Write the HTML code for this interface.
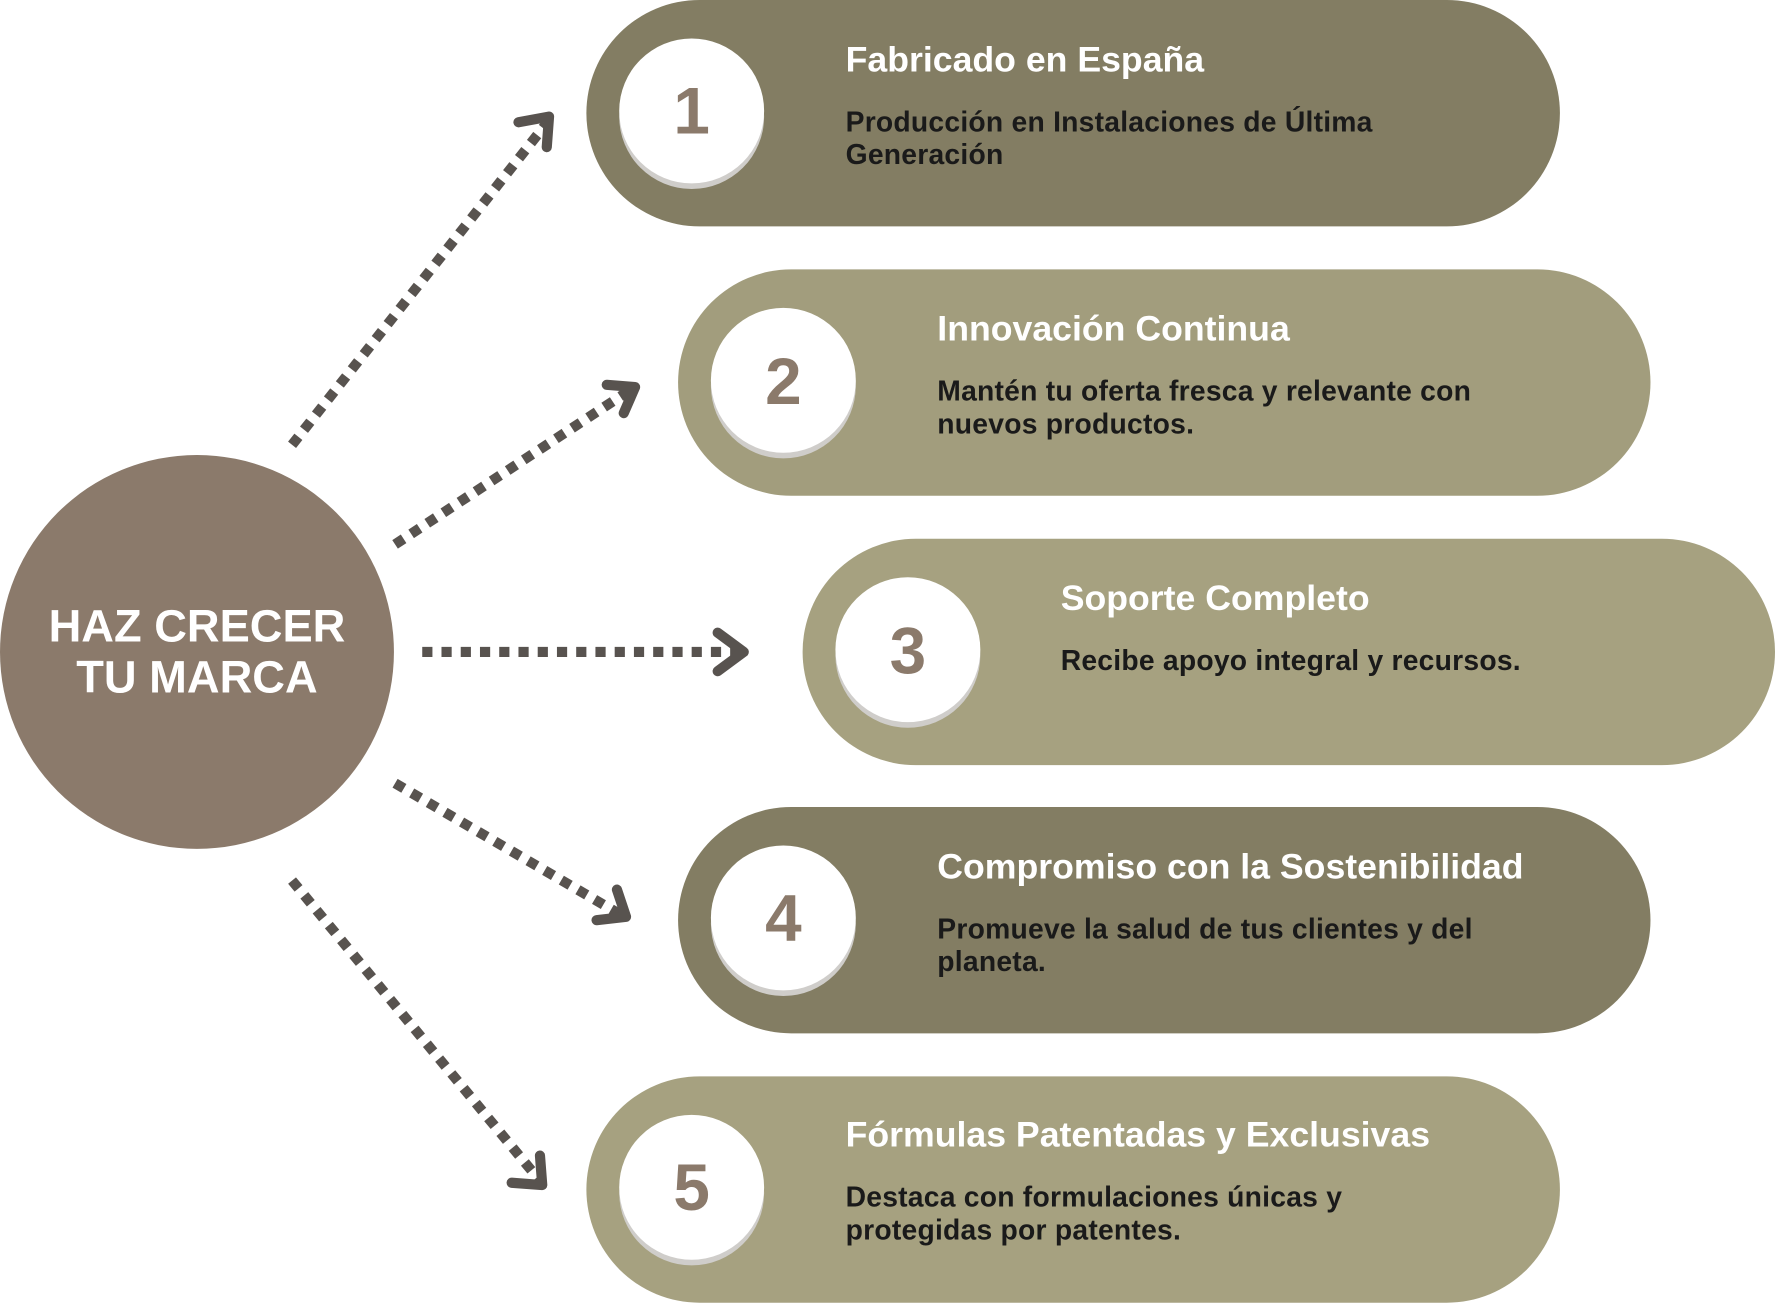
<!DOCTYPE html>
<html><head><meta charset="utf-8"><style>
html,body{margin:0;padding:0;background:#fff;}
svg{display:block;}
.t{font-family:"Liberation Sans",sans-serif;font-weight:bold;fill:#fff;font-size:31.5px;}
.d{font-family:"Liberation Sans",sans-serif;font-weight:bold;fill:#1a1a1a;font-size:25px;letter-spacing:0.2px;}
.n{font-family:"Liberation Sans",sans-serif;font-weight:bold;fill:#8b7a6b;font-size:58px;text-anchor:middle;}
.a{stroke:#58534f;stroke-width:9;stroke-dasharray:9 8;fill:none;}
.h{stroke:#58534f;stroke-width:9;fill:none;stroke-linecap:round;stroke-linejoin:round;}
</style></head><body>
<svg width="1775" height="1305" viewBox="0 0 1568 1153" preserveAspectRatio="none">
<defs>
<g id="c"><circle cx="0" cy="5" r="64" fill="#cfcdca"/><circle cx="0" cy="0" r="64" fill="#fff"/></g>
</defs>
<rect x="518" y="0" width="860" height="200" rx="100" fill="#837d63"/>
<rect x="599" y="238" width="859" height="200" rx="100" fill="#a29d7d"/>
<rect x="709" y="476" width="859" height="200" rx="100" fill="#a6a180"/>
<rect x="599" y="713" width="859" height="200" rx="100" fill="#837d63"/>
<rect x="518" y="951" width="860" height="200" rx="100" fill="#a6a180"/>
<use href="#c" x="611" y="98"/><use href="#c" x="692" y="336"/><use href="#c" x="802" y="574"/><use href="#c" x="692" y="811"/><use href="#c" x="611" y="1049"/>
<text class="n" x="611" y="118">1</text>
<text class="n" x="692" y="357">2</text>
<text class="n" x="802" y="595">3</text>
<text class="n" x="692" y="831">4</text>
<text class="n" x="611" y="1069">5</text>
<text class="t" x="747" y="63">Fabricado en España</text>
<text class="d" x="747" y="116">Producción en Instalaciones de Última</text>
<text class="d" x="747" y="145">Generación</text>
<text class="t" x="828" y="301">Innovación Continua</text>
<text class="d" x="828" y="354">Mantén tu oferta fresca y relevante con</text>
<text class="d" x="828" y="383">nuevos productos.</text>
<text class="t" x="937" y="539">Soporte Completo</text>
<text class="d" x="937" y="592">Recibe apoyo integral y recursos.</text>
<text class="t" x="828" y="776">Compromiso con la Sostenibilidad</text>
<text class="d" x="828" y="829">Promueve la salud de tus clientes y del</text>
<text class="d" x="828" y="858">planeta.</text>
<text class="t" x="747" y="1013">Fórmulas Patentadas y Exclusivas</text>
<text class="d" x="747" y="1066">Destaca con formulaciones únicas y</text>
<text class="d" x="747" y="1095">protegidas por patentes.</text>
<circle cx="174" cy="576" r="174" fill="#8b7a6b"/>
<text x="174" y="567" text-anchor="middle" font-family="Liberation Sans,sans-serif" font-weight="bold" font-size="40" fill="#fff">HAZ CRECER</text>
<text x="174" y="612" text-anchor="middle" font-family="Liberation Sans,sans-serif" font-weight="bold" font-size="40" fill="#fff">TU MARCA</text>
<line class="a" x1="258" y1="393" x2="482" y2="110"/>
<polyline class="h" points="458,108 485,103 483,130"/>
<line class="a" x1="349" y1="481" x2="556" y2="345"/>
<polyline class="h" points="536,340 561,342 551,365"/>
<line class="a" x1="373" y1="576" x2="652" y2="576"/>
<polyline class="h" points="634,559 657,576 634,593"/>
<line class="a" x1="349" y1="692" x2="548" y2="808"/>
<polyline class="h" points="527,813 553,810 545,786"/>
<line class="a" x1="258" y1="778" x2="476" y2="1042"/>
<polyline class="h" points="452,1045 479,1047 477,1021"/>
</svg>
</body></html>
